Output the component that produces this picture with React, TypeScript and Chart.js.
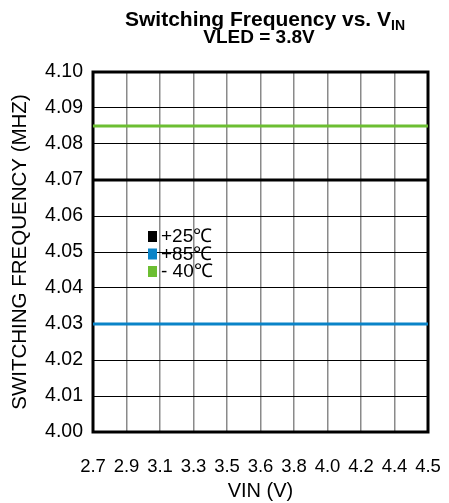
import React, { useEffect, useRef } from "react";
import { Chart, registerables } from "chart.js";

Chart.register(...registerables);

const vinLabels = ["2.7", "2.9", "3.1", "3.3", "3.5", "3.6", "3.8", "4.0", "4.2", "4.4", "4.5"];
const freq25C = [4.07, 4.07, 4.07, 4.07, 4.07, 4.07, 4.07, 4.07, 4.07, 4.07, 4.07];
const freq85C = [4.03, 4.03, 4.03, 4.03, 4.03, 4.03, 4.03, 4.03, 4.03, 4.03, 4.03];
const freqMinus40C = [4.085, 4.085, 4.085, 4.085, 4.085, 4.085, 4.085, 4.085, 4.085, 4.085, 4.085];
const seriesNames = ["+25\u2103", "+85\u2103", "- 40\u2103"];
const seriesColors = ["#000000", "#0a84c8", "#6cbe32"];

const FONT = "'Liberation Sans', Arial, Helvetica, sans-serif";

const framePlugin = {
  id: "frame",
  beforeDatasetsDraw(chart: any) {
    const { ctx, chartArea } = chart;
    ctx.save();
    ctx.strokeStyle = "#000";
    ctx.lineWidth = 3;
    ctx.strokeRect(chartArea.left, chartArea.top, chartArea.right - chartArea.left, chartArea.bottom - chartArea.top);
    ctx.restore();
  },
};

const titlePlugin = {
  id: "customTitle",
  afterDraw(chart: any) {
    const { ctx } = chart;
    ctx.save();
    ctx.fillStyle = "#000";
    ctx.textBaseline = "alphabetic";
    ctx.textAlign = "left";
    const main = "Switching Frequency vs. V";
    const sub = "IN";
    ctx.font = `bold 21px ${FONT}`;
    const wMain = ctx.measureText(main).width;
    ctx.font = `bold 14px ${FONT}`;
    const wSub = ctx.measureText(sub).width;
    const cx1 = 265;
    const x0 = cx1 - (wMain + wSub) / 2;
    ctx.font = `bold 21px ${FONT}`;
    ctx.fillText(main, x0, 26);
    ctx.font = `bold 14px ${FONT}`;
    ctx.fillText(sub, x0 + wMain, 30);
    ctx.font = `bold 19px ${FONT}`;
    ctx.textAlign = "center";
    ctx.fillText("VLED = 3.8V", 259, 43);
    ctx.restore();
  },
};

const legendPlugin = {
  id: "insideLegend",
  afterDraw(chart: any) {
    const { ctx } = chart;
    ctx.save();
    ctx.font = `19px ${FONT}`;
    ctx.textBaseline = "middle";
    ctx.textAlign = "left";
    chart.data.datasets.forEach((ds: any, i: number) => {
      const y = 236 + i * 17.5;
      ctx.fillStyle = ds.borderColor;
      ctx.fillRect(148, y - 5, 9, 11);
      ctx.fillStyle = "#000";
      ctx.fillText(ds.label, 161, y + 1);
    });
    ctx.restore();
  },
};

export default function App() {
  const canvasRef = useRef<HTMLCanvasElement | null>(null);

  useEffect(() => {
    if (!canvasRef.current) return;
    const mk = (label: string, data: number[], color: string) => ({
      label,
      data,
      borderColor: color,
      backgroundColor: color,
      borderWidth: 3,
      pointRadius: 0,
      fill: false,
      tension: 0,
    });
    const chart = new Chart(canvasRef.current, {
      type: "line",
      data: {
        labels: vinLabels,
        datasets: [
          mk(seriesNames[0], freq25C, seriesColors[0]),
          mk(seriesNames[1], freq85C, seriesColors[1]),
          mk(seriesNames[2], freqMinus40C, seriesColors[2]),
        ],
      },
      options: {
        responsive: false,
        animation: false,
        devicePixelRatio: 1,
        layout: { padding: { top: 72, right: 21, left: 0, bottom: 0 } },
        plugins: {
          legend: { display: false },
          title: { display: false },
          tooltip: { enabled: false },
        },
        scales: {
          x: {
            type: "category",
            offset: false,
            grid: { color: "#8a8a8a", lineWidth: 1.5, drawTicks: false },
            border: { display: false },
            ticks: {
              color: "#000",
              font: { family: FONT, size: 18.5 },
              padding: 24,
              maxRotation: 0,
              autoSkip: false,
            },
            title: {
              display: true,
              text: "VIN (V)",
              color: "#000",
              font: { family: FONT, size: 20 },
              padding: { top: 0, bottom: 0 },
            },
            afterFit: (s: any) => {
              s.height = 71;
              s.paddingLeft = 0;
              s.paddingRight = 0;
            },
          },
          y: {
            min: 4.0,
            max: 4.1,
            grid: { color: "#000", lineWidth: 1, drawTicks: false },
            border: { display: false },
            ticks: {
              stepSize: 0.01,
              color: "#000",
              font: { family: FONT, size: 19.5 },
              padding: 10,
              callback: (v: any) => Number(v).toFixed(2),
            },
            title: {
              display: true,
              text: "SWITCHING FREQUENCY (MHZ)",
              color: "#000",
              font: { family: FONT, size: 20.5 },
              padding: { top: 8, bottom: 0 },
            },
            afterFit: (s: any) => {
              s.width = 93;
              s.paddingTop = 0;
              s.paddingBottom = 0;
            },
          },
        },
      },
      plugins: [framePlugin, titlePlugin, legendPlugin],
    });
    return () => chart.destroy();
  }, []);

  return (
    <div style={{ position: "absolute", left: 0, top: 0, width: 449, height: 503, background: "#fff" }}>
      <canvas ref={canvasRef} width={449} height={503} />
    </div>
  );
}
